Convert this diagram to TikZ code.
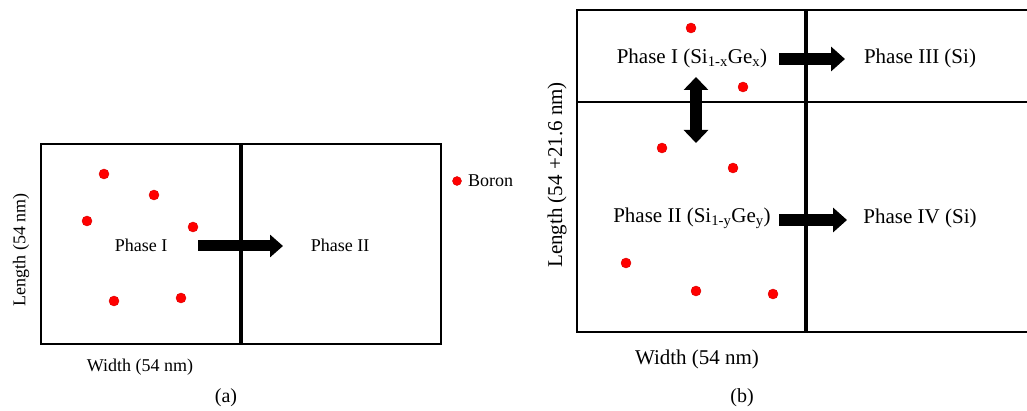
\documentclass[tikz,border=0pt]{standalone}
\usepackage{fontspec}
\setmainfont{Liberation Serif}
\usetikzlibrary{arrows.meta}
\begin{document}
\begin{tikzpicture}[x=1pt,y=-1pt,
  frame/.style={line width=2.8pt},
  divider/.style={line width=3.2pt},
  dot/.style={circle,fill=red,draw=red!85!black,line width=0.4pt,inner sep=0pt,minimum size=10pt},
  lbla/.style={font=\fontsize{18}{20}\selectfont,inner sep=0pt},
  lblb/.style={font=\fontsize{21}{24}\selectfont,inner sep=0pt},
  caption/.style={font=\fontsize{20}{22}\selectfont,inner sep=0pt},
  fatarrow/.style={line width=11pt,-{Triangle[width=22pt,length=13pt]}},
  dblarrow/.style={line width=12pt,{Triangle[width=24pt,length=13pt]}-{Triangle[width=24pt,length=13pt]}}]
\useasboundingbox (0,0) rectangle (1027,411);

% ---------- panel (a) ----------
\draw[frame] (41,144) rectangle (441,344);
\draw[divider] (241,144) -- (241,344);

\node[dot] (a1) at (104,174) {};
\node[dot] (a2) at (154,195) {};
\node[dot] (a3) at (87,221) {};
\node[dot] (a4) at (193,227) {};
\node[dot] (a5) at (114,301) {};
\node[dot] (a6) at (181,298) {};

\node[lbla] (p1a) at (141,245) {Phase I};
\node[lbla] (p2a) at (340,245) {Phase II};
\coordinate (aS) at (198,246);
\coordinate (aE) at (283,246);
\draw[fatarrow] (aS) -- (aE);

\node[lbla,rotate=90] (lenA) at (21,250) {Length (54 nm)};
\node[lbla] (widA) at (140,367) {Width (54 nm)};
\node[caption] (capA) at (226,398) {(a)};

\node[dot,minimum size=9pt] (legdot) at (457,181) {};
\node[lbla,anchor=west] (legtxt) at (468,181) {Boron};

% ---------- panel (b) ----------
\draw[frame] (1027,10) -- (577,10) -- (577,332) -- (1027,332);
\draw[frame] (577,102) -- (1027,102);
\draw[divider] (806,10) -- (806,332);

\node[dot] (b1) at (691,28) {};
\node[dot] (b2) at (743,87) {};
\node[dot] (b3) at (662,148) {};
\node[dot] (b4) at (733,168) {};
\node[dot] (b5) at (626,263) {};
\node[dot] (b6) at (696,291) {};
\node[dot] (b7) at (773,294) {};

\node[lblb] (p1b) at (692,58) {Phase I (Si\textsubscript{1-x}Ge\textsubscript{x})};
\node[lblb] (p3b) at (920,58) {Phase III (Si)};
\node[lblb] (p2b) at (692,218) {Phase II (Si\textsubscript{1-y}Ge\textsubscript{y})};
\node[lblb] (p4b) at (920,218) {Phase IV (Si)};

\coordinate (b1S) at (779,59);
\coordinate (b1E) at (845,59);
\coordinate (b2S) at (779,220);
\coordinate (b2E) at (847,220);
\coordinate (vS) at (696,77);
\coordinate (vE) at (696,143);
\draw[fatarrow,line width=12pt,-{Triangle[width=24pt,length=14pt]}] (b1S) -- (b1E);
\draw[fatarrow,line width=12pt,-{Triangle[width=24pt,length=14pt]}] (b2S) -- (b2E);
\draw[dblarrow] (vS) -- (vE);

\node[lblb,rotate=90] (lenB) at (557,175) {Length (54 +21.6 nm)};
\node[lblb] (widB) at (697,359) {Width (54 nm)};
\node[caption] (capB) at (742,398) {(b)};
\end{tikzpicture}
\end{document}
